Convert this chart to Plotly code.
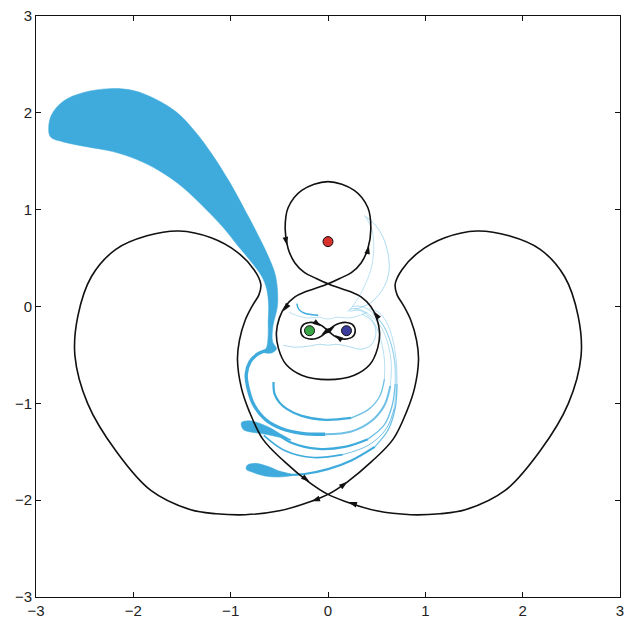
import plotly.graph_objects as go

# ---------------- data ----------------
# outer closed curve, left lobe (right lobe is its mirror image); starts/ends at the lower crossing
OUT_X = [0, -0.17, -0.5, -0.85, -1.15, -1.41, -1.82, -2.18, -2.47, -2.60, -2.57, -2.43, -2.18, -1.86,
         -1.53, -1.2, -0.93, -0.76, -0.69, -0.71, -0.77, -0.85, -0.91, -0.93, -0.89, -0.81, -0.67,
         -0.45, -0.20, 0]
OUT_Y = [-1.94, -2.01, -2.11, -2.15, -2.14, -2.10, -1.90, -1.49, -1.0, -0.51, -0.10, 0.31, 0.59, 0.73,
         0.78, 0.71, 0.56, 0.38, 0.23, 0.12, 0.02, -0.14, -0.35, -0.55, -0.84, -1.08, -1.37,
         -1.60, -1.81, -1.94]

# middle figure-eight: upper loop (from the crossing, counter-clockwise) and lower loop
UP_X = [0, 0.12, 0.24, 0.34, 0.41, 0.44, 0.41, 0.27, 0, -0.27, -0.41, -0.44, -0.41, -0.34, -0.24, -0.12, 0]
UP_Y = [0.235, 0.29, 0.35, 0.45, 0.60, 0.80, 1.02, 1.20, 1.29, 1.20, 1.02, 0.80, 0.60, 0.45, 0.35, 0.29, 0.235]
LO_X = [0, 0.12, 0.24, 0.34, 0.44, 0.50, 0.53, 0.51, 0.43, 0.27, 0, -0.27, -0.43, -0.51, -0.53, -0.50,
        -0.44, -0.34, -0.24, -0.12, 0]
LO_Y = [0.235, 0.19, 0.15, 0.10, 0.0, -0.12, -0.27, -0.43, -0.60, -0.71, -0.755, -0.71, -0.60, -0.43,
        -0.27, -0.12, 0.0, 0.10, 0.15, 0.19, 0.235]

# small figure-eight around the two lower points
SE_X = [0, -0.06, -0.12, -0.19, -0.25, -0.28, -0.25, -0.19, -0.12, -0.06, 0,
        0.06, 0.12, 0.19, 0.25, 0.28, 0.25, 0.19, 0.12, 0.06, 0]
SE_Y = [-0.25, -0.20, -0.172, -0.165, -0.185, -0.25, -0.315, -0.335, -0.33, -0.30, -0.25,
        -0.20, -0.172, -0.165, -0.185, -0.25, -0.315, -0.335, -0.33, -0.30, -0.25]

# fixed points
PT_X = [0, -0.19, 0.19]
PT_Y = [0.67, -0.25, -0.25]
PT_COL = ["#d9312b", "#3aa547", "#3b3d9c"]

# direction arrows on the separatrices (position, heading in degrees clockwise from up)
ARR_X = [-0.42, 0.42, -0.46, 0.47, -0.19, 0.20, -0.17, 0.21, -0.07, 0.07, -0.07, 0.07]
ARR_Y = [0.63, 0.63, -0.05, -0.05, -1.81, -1.81, -2.01, -2.02, -0.205, -0.205, -0.295, -0.295]
ARR_ANG = [168, 12, 215, 325, 127, 53, 252, 288, 125, 55, 235, 305]

# blue material: tongue + strip
TONGUE_X = [-2.87, -2.84, -2.72, -2.51, -2.24, -2.0, -1.77, -1.56, -1.36, -1.19, -1.02, -0.85, -0.71,
            -0.61, -0.545, -0.52, -0.52, -0.565, -0.57, -0.53, -0.58, -0.66, -0.63, -0.615, -0.615,
            -0.61, -0.63, -0.68, -0.78, -0.92, -1.08, -1.29, -1.49, -1.73, -1.97, -2.21, -2.48, -2.72, -2.85]
TONGUE_Y = [1.84, 1.98, 2.12, 2.21, 2.25, 2.23, 2.14, 2.01, 1.80, 1.57, 1.30, 0.99, 0.72,
            0.51, 0.34, 0.18, 0.0, -0.2, -0.36, -0.44, -0.48, -0.47, -0.42, -0.3, -0.15,
            0.0, 0.18, 0.31, 0.45, 0.62, 0.82, 1.04, 1.23, 1.40, 1.52, 1.60, 1.65, 1.70, 1.75]

# main branch leaving the strip
MB_X = [-0.62, -0.72, -0.80, -0.84, -0.82, -0.76, -0.64, -0.48, -0.27, -0.03, 0.24, 0.45, 0.58,
        0.64, 0.65, 0.62, 0.56, 0.47, 0.35, 0.25, 0.20]
MB_Y = [-0.45, -0.49, -0.57, -0.70, -0.85, -1.02, -1.17, -1.26, -1.31, -1.32, -1.29, -1.18, -1.02,
        -0.82, -0.6, -0.4, -0.24, -0.12, -0.04, -0.02, -0.05]

# inner arc with free end
IA_X = [-0.56, -0.55, -0.50, -0.42, -0.27, -0.03, 0.24, 0.42, 0.53, 0.58, 0.58, 0.55, 0.50, 0.42, 0.32, 0.22]
IA_Y = [-0.78, -0.90, -0.99, -1.06, -1.13, -1.17, -1.15, -1.06, -0.93, -0.75, -0.55, -0.37, -0.22, -0.10, -0.04, -0.05]

# blob 1 and its filaments
B1_X = [-0.89, -0.82, -0.72, -0.60, -0.50, -0.38, -0.50, -0.64, -0.77, -0.87]
B1_Y = [-1.20, -1.18, -1.20, -1.25, -1.31, -1.38, -1.35, -1.32, -1.30, -1.27]
F1_X = [-0.50, -0.37, -0.10, 0.17, 0.41, 0.58, 0.66, 0.69, 0.68, 0.63, 0.55, 0.45, 0.35, 0.25]
F1_Y = [-1.33, -1.41, -1.47, -1.45, -1.37, -1.22, -1.02, -0.8, -0.55, -0.33, -0.17, -0.06, 0.0, 0.0]
F2_X = [-0.66, -0.44, -0.15, 0.15, 0.42, 0.60, 0.68, 0.70, 0.69, 0.64, 0.56, 0.46]
F2_Y = [-1.33, -1.49, -1.56, -1.53, -1.43, -1.26, -1.05, -0.82, -0.58, -0.36, -0.18, -0.08]

# blob 2 and its filament
B2_X = [-0.83, -0.75, -0.62, -0.50, -0.36, -0.50, -0.65, -0.78, -0.84]
B2_Y = [-1.64, -1.62, -1.65, -1.70, -1.74, -1.76, -1.75, -1.71, -1.68]
F3_X = [-0.40, -0.24, 0.0, 0.24, 0.48, 0.62, 0.69, 0.71, 0.70, 0.66, 0.60, 0.52, 0.42]
F3_Y = [-1.74, -1.73, -1.68, -1.59, -1.45, -1.27, -1.05, -0.8, -0.55, -0.32, -0.16, -0.06, -0.02]

# faint filaments around the inner figure-eight
FA_X = [-0.46, -0.34, -0.20, -0.08, 0.0, 0.08, 0.20, 0.34, 0.44, 0.49, 0.48, 0.42, 0.35]
FA_Y = [-0.40, -0.42, -0.41, -0.39, -0.40, -0.39, -0.41, -0.44, -0.40, -0.30, -0.20, -0.12, -0.08]
FB_X = [-0.40, -0.30, -0.20, -0.10, 0.0, 0.10, 0.20, 0.30, 0.40]
FB_Y = [-0.06, -0.10, -0.12, -0.11, -0.13, -0.11, -0.12, -0.10, -0.06]
FC_X = [0.37, 0.48, 0.58, 0.63, 0.58, 0.44, 0.27]
FC_Y = [0.94, 0.85, 0.68, 0.41, 0.21, 0.04, -0.03]
FD_X = [0.39, 0.45, 0.47, 0.44, 0.36, 0.28, 0.22]
FD_Y = [0.92, 0.80, 0.60, 0.38, 0.18, 0.04, -0.04]
HK_X = [-0.32, -0.30, -0.24, -0.16, -0.10]
HK_Y = [0.03, -0.03, -0.07, -0.085, -0.09]

TICKS = [-3, -2, -1, 0, 1, 2, 3]

BLUE = "#3fabdc"
MID = "rgba(63,171,220,0.75)"
LIGHT = "rgba(63,171,220,0.42)"
K = "#111111"

fig = go.Figure()

def line(x, y, color, width, shape="spline"):
    fig.add_trace(go.Scatter(x=x, y=y, mode="lines",
                             line=dict(color=color, width=width, shape=shape, smoothing=1.0),
                             hoverinfo="skip", showlegend=False))

def fading(x, y, cut1, cut2, w):
    # filament whose ink thins out along its length
    line(x[:cut1 + 1], y[:cut1 + 1], BLUE, w)
    line(x[cut1:cut2 + 1], y[cut1:cut2 + 1], MID, max(w * 0.6, 1.0))
    line(x[cut2:], y[cut2:], LIGHT, 0.9)

def fill(x, y, color):
    fig.add_trace(go.Scatter(x=x + x[:1], y=y + y[:1], mode="lines", fill="toself", fillcolor=color,
                             line=dict(color=color, width=0.5, shape="spline", smoothing=1.0),
                             hoverinfo="skip", showlegend=False))

# blue material
fill(TONGUE_X, TONGUE_Y, BLUE)
fill(B1_X, B1_Y, BLUE)
fill(B2_X, B2_Y, BLUE)
fading(MB_X, MB_Y, 9, 13, 3.4)
fading(IA_X, IA_Y, 6, 9, 2.2)
fading(F1_X, F1_Y, 4, 7, 2.2)
fading(F2_X, F2_Y, 3, 6, 1.6)
fading(F3_X, F3_Y, 4, 7, 2.2)
line(FA_X, FA_Y, LIGHT, 1.0)
line(FB_X, FB_Y, LIGHT, 0.8)
line(FC_X, FC_Y, LIGHT, 1.0)
line(FD_X, FD_Y, LIGHT, 0.8)
line(HK_X, HK_Y, BLUE, 1.5)

# black separatrices: each drawn as one continuous path through its crossing
outer_x = OUT_X + [-v for v in OUT_X[1:]] + [OUT_X[1]]
outer_y = OUT_Y + OUT_Y[1:] + [OUT_Y[1]]
line(outer_x, outer_y, K, 1.6)
mid_x = UP_X + LO_X[1:] + [UP_X[1]]
mid_y = UP_Y + LO_Y[1:] + [UP_Y[1]]
line(mid_x, mid_y, K, 1.6)
line(SE_X + [SE_X[1]], SE_Y + [SE_Y[1]], K, 1.6)

# arrows
fig.add_trace(go.Scatter(x=ARR_X, y=ARR_Y, mode="markers",
                         marker=dict(symbol="arrow", size=9, angle=ARR_ANG, color=K, line=dict(width=0)),
                         hoverinfo="skip", showlegend=False))

# fixed points
fig.add_trace(go.Scatter(x=PT_X, y=PT_Y, mode="markers",
                         marker=dict(size=10, color=PT_COL, line=dict(color="#111111", width=1)),
                         hoverinfo="skip", showlegend=False))

axis = dict(range=[-3, 3], tickvals=TICKS, ticks="inside", ticklen=5, tickwidth=1, tickcolor="#111",
            showline=True, linecolor="#111", linewidth=1, mirror="ticks", showgrid=False, zeroline=False,
            tickfont=dict(family="Liberation Sans, Arial, sans-serif", size=15, color="#222"))

fig.update_layout(width=630, height=625, margin=dict(l=36, r=6, t=16, b=20),
                  plot_bgcolor="white", paper_bgcolor="white", showlegend=False,
                  xaxis=axis, yaxis=axis)

fig.write_html("out.html")
